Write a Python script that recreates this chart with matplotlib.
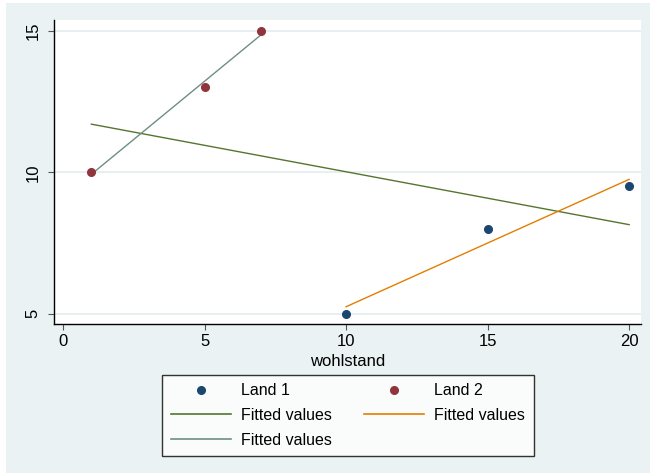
import matplotlib
matplotlib.use("Agg")
import matplotlib.pyplot as plt
from matplotlib.lines import Line2D
from matplotlib.patches import Rectangle

# ======================
# Daten
# ======================
land1_x = [10, 15, 20]
land1_y = [5, 8, 9.5]
land2_x = [1, 5, 7]
land2_y = [10, 13, 15]

# Fitted values (Endpunkte)
fit_all_x = [1, 20]
fit_all_y = [11.7, 8.15]
fit1_x = [10, 20]
fit1_y = [5.25, 9.75]
fit2_x = [1, 7]
fit2_y = [9.93, 14.86]

xticks = [0, 5, 10, 15, 20]
yticks = [5, 10, 15]

# Stata s2color
navy = "#1a476f"
maroon = "#90353b"
green = "#55752f"
orange = "#e37e00"
teal = "#6e8e84"
bg = "#eaf2f3"

plt.rcParams["font.family"] = ["Liberation Sans", "DejaVu Sans"]

fig = plt.figure(figsize=(6.5, 4.73), dpi=100, facecolor="white")
fig.patches.append(Rectangle((6 / 650, 0), 1, 470 / 473, transform=fig.transFigure,
                             facecolor=bg, edgecolor="none", zorder=-1))

ax = fig.add_axes([54 / 650, 1 - 324 / 473, (641 - 54) / 650, (324 - 20) / 473])
ax.set_facecolor("white")

for y in yticks:
    ax.axhline(y, color="#e3ecee", lw=1.2, zorder=0)

ax.plot(fit_all_x, fit_all_y, color=green, lw=1.0, zorder=2)
ax.plot(fit1_x, fit1_y, color=orange, lw=1.0, zorder=2)
ax.plot(fit2_x, fit2_y, color=teal, lw=1.0, zorder=2)
ax.plot(land1_x, land1_y, "o", color=navy, ms=5.5, zorder=3)
ax.plot(land2_x, land2_y, "o", color=maroon, ms=5.5, zorder=3)

ax.set_xlim(-0.32, 20.42)
ax.set_ylim(4.64, 15.38)
ax.set_xticks(xticks)
ax.set_yticks(yticks)
ax.tick_params(axis="both", labelsize=12, length=4.5, width=0.8, color="#555555")
ax.tick_params(axis="x", pad=3)
ax.tick_params(axis="y", pad=5)
for lab in ax.get_yticklabels():
    lab.set_rotation(90)
    lab.set_va("center")
ax.spines["top"].set_visible(False)
ax.spines["right"].set_visible(False)
ax.spines["left"].set_linewidth(1.0)
ax.spines["bottom"].set_linewidth(1.0)
ax.set_xlabel("wohlstand", fontsize=12, labelpad=3)

handles = [
    Line2D([], [], ls="none", marker="o", color=navy, ms=5.5),
    Line2D([], [], color=green, lw=1.2),
    Line2D([], [], color=teal, lw=1.2),
    Line2D([], [], ls="none", marker="o", color=maroon, ms=5.5),
    Line2D([], [], color=orange, lw=1.2),
]
labels = ["Land 1", "Fitted values", "Fitted values", "Land 2", "Fitted values"]
leg = fig.legend(handles, labels, ncol=2, loc="center", bbox_to_anchor=(0.535, 0.1216),
                 fontsize=11.5, frameon=True, fancybox=False, handlelength=3.8,
                 handletextpad=0.6, columnspacing=2.0, labelspacing=0.6,
                 borderpad=0.55)
leg.get_frame().set_edgecolor("black")
leg.get_frame().set_linewidth(1.0)

fig.savefig("out.png", dpi=100, facecolor=fig.get_facecolor())
